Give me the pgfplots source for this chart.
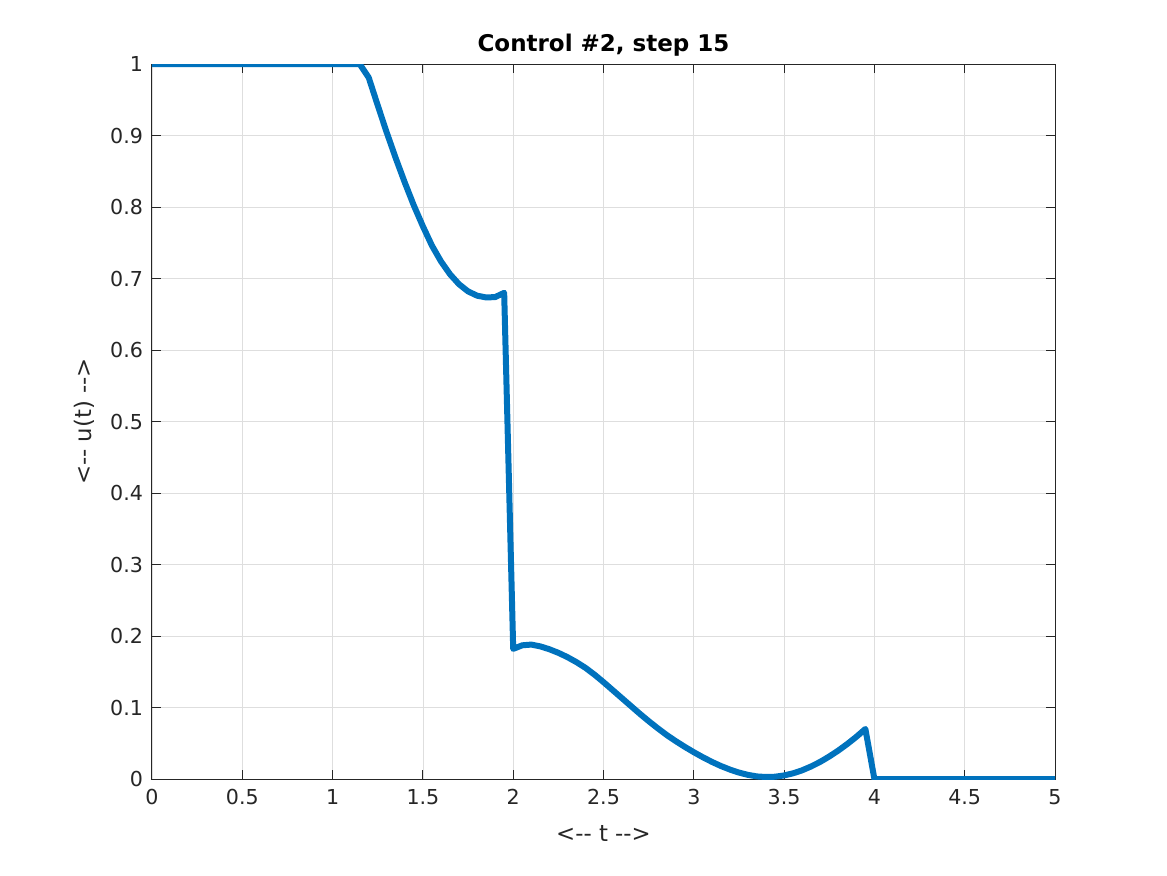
\documentclass[border=0pt]{standalone}
\usepackage{fontspec}
\setmainfont{DejaVu Sans}[Ligatures=TeXOff]
\usepackage{pgfplots}
\pgfplotsset{compat=1.18}
\definecolor{mblue}{RGB}{0,114,189}
\definecolor{axgray}{RGB}{38,38,38}
\begin{document}
\begin{tikzpicture}
\begin{axis}[
  scale only axis,
  width=451.5pt, height=357.5pt,
  xmin=0, xmax=5, ymin=0, ymax=1,
  xtick={0,0.5,...,5}, ytick={0,0.1,...,1},
  xticklabels={0,0.5,1,1.5,2,2.5,3,3.5,4,4.5,5},
  yticklabels={0,0.1,0.2,0.3,0.4,0.5,0.6,0.7,0.8,0.9,1},
  tick align=inside,
  major tick length=4.5pt,
  xtick pos=both, ytick pos=both,
  grid=major,
  grid style={color=black!13, line width=0.4pt},
  axis line style={color=axgray, line width=0.5pt},
  every tick/.style={color=axgray, line width=0.5pt},
  tick label style={font=\fontsize{10.3}{12}\selectfont, text=axgray},
  xticklabel style={yshift=-1.5pt},
  yticklabel style={xshift=-1pt},
  /pgf/number format/assume math mode=true,
  xlabel={<-- t -->},
  ylabel={<-- u(t) -->},
  label style={font=\fontsize{11.4}{13}\selectfont, text=axgray},
  xlabel style={yshift=-3.5pt},
  ylabel style={yshift=1pt},
  title={\bfseries Control \#2, step 15},
  title style={font=\fontsize{11.5}{13}\selectfont, yshift=-5.5pt},
]
\addplot[color=mblue, line width=3pt, line join=round] coordinates {
(0,1) (0.05,1) (0.1,1) (0.15,1) (0.2,1) (0.25,1) (0.3,1) (0.35,1) (0.4,1) (0.45,1)
(0.5,1) (0.55,1) (0.6,1) (0.65,1) (0.7,1) (0.75,1) (0.8,1) (0.85,1) (0.9,1) (0.95,1)
(1.0,1) (1.05,1) (1.1,1) (1.15,1)
(1.20,0.981) (1.25,0.942) (1.30,0.904) (1.35,0.868) (1.40,0.834) (1.45,0.802)
(1.50,0.773) (1.55,0.746) (1.60,0.724) (1.65,0.706) (1.70,0.692) (1.75,0.682)
(1.80,0.676) (1.85,0.6735) (1.90,0.674) (1.95,0.680)
(2.00,0.182) (2.05,0.187) (2.10,0.1880) (2.15,0.1855) (2.20,0.1815) (2.25,0.1765)
(2.30,0.1705) (2.35,0.1635) (2.40,0.1555) (2.45,0.1460) (2.50,0.1355) (2.55,0.1245)
(2.60,0.1135) (2.65,0.1025) (2.70,0.0915) (2.75,0.0810) (2.80,0.0710) (2.85,0.0615)
(2.90,0.0530) (2.95,0.0450) (3.00,0.0375) (3.05,0.0305) (3.10,0.0240) (3.15,0.0182)
(3.20,0.0132) (3.25,0.0090) (3.30,0.0058) (3.35,0.0036) (3.40,0.0028) (3.45,0.0032)
(3.50,0.0050) (3.55,0.0080) (3.60,0.0122) (3.65,0.0176) (3.70,0.0240) (3.75,0.0315)
(3.80,0.0398) (3.85,0.0490) (3.90,0.0590) (3.95,0.0700)
(4.00,0) (4.05,0) (4.1,0) (4.2,0) (4.3,0) (4.4,0) (4.5,0) (4.6,0) (4.7,0) (4.8,0) (4.9,0) (5,0)
};
\end{axis}
\path ([xshift=-76pt,yshift=-48pt]current axis.south west) rectangle ([xshift=56pt,yshift=32pt]current axis.north east);
\end{tikzpicture}
\end{document}
